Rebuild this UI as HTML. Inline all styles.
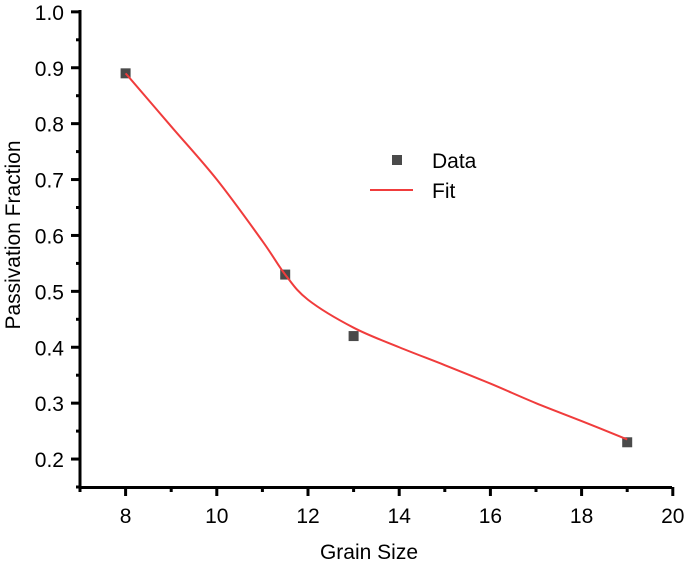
<!DOCTYPE html>
<html><head><meta charset="utf-8"><style>
body{margin:0;background:#fff;}
svg{display:block;font-family:"Liberation Sans",Arial,sans-serif;}
</style></head><body>
<svg id="chart" width="685" height="565"></svg>
<script>
const xTicks=[8,10,12,14,16,18,20];
const yTicks=[0.2,0.3,0.4,0.5,0.6,0.7,0.8,0.9,1.0];
const dataX=[8,11.5,13,19];
const dataY=[0.89,0.53,0.42,0.23];
const fitX=[8,9,10,11,11.5,12,13,14,15,16,17,18,19];
const fitY=[0.89,0.795,0.70,0.59,0.53,0.485,0.435,0.40,0.368,0.335,0.30,0.268,0.235];
const NS='http://www.w3.org/2000/svg';
const svg=document.getElementById('chart');
const sx=v=>80+(v-7)*45.6;
const sy=v=>487-(v-0.15)*559;
function mk(t,a,p){const e=document.createElementNS(NS,t);for(const k in a)e.setAttribute(k,a[k]);(p||svg).appendChild(e);return e;}
const ax=mk('line',{x1:80,y1:10,x2:80,y2:489,stroke:'#000','stroke-width':3});


const bx=mk('line',{x1:78.5,y1:487.5,x2:672,y2:487.5,stroke:'#000','stroke-width':3});


for(let v=7;v<=20.01;v+=1){const major=xTicks.includes(Math.round(v));
 const t=mk('line',{x1:sx(v),x2:sx(v),y1:487,y2:major?496:492,stroke:'#000','stroke-width':3});
 
 }
xTicks.forEach(v=>{const t=mk('text',{x:sx(v),y:523,'text-anchor':'middle','font-size':21});t.textContent=v;
 
 });
for(let i=0;i<=17;i++){const v=0.15+i*0.05;const major=i%2==1;
 const t=mk('line',{x1:major?71:76,x2:80,y1:sy(v),y2:sy(v),stroke:'#000','stroke-width':3});
 
 }
yTicks.forEach(v=>{const t=mk('text',{x:64,y:sy(v)+8,'text-anchor':'end','font-size':21});t.textContent=v.toFixed(1);
 
 });
const xt=mk('text',{x:369,y:559,'text-anchor':'middle','font-size':21});xt.textContent='Grain Size';


const yt=mk('text',{x:0,y:0,'text-anchor':'middle','font-size':21,transform:'translate(20,235) rotate(-90)'});yt.textContent='Passivation Fraction';


const pts=fitX.map((x,i)=>[sx(x),sy(fitY[i])]);
let d='M'+pts[0][0]+','+pts[0][1];
for(let i=0;i<pts.length-1;i++){const p0=pts[i-1]||pts[i],p1=pts[i],p2=pts[i+1],p3=pts[i+2]||p2;
 d+=' C'+(p1[0]+(p2[0]-p0[0])/6)+','+(p1[1]+(p2[1]-p0[1])/6)+' '+(p2[0]-(p3[0]-p1[0])/6)+','+(p2[1]-(p3[1]-p1[1])/6)+' '+p2[0]+','+p2[1];}
dataX.forEach((x,i)=>{const r=mk('rect',{x:sx(x)-5,y:sy(dataY[i])-5,width:10,height:10,fill:'#4a4a4a'});
 
 });
const fl=mk('path',{d:d,fill:'none',stroke:'#f03c3c','stroke-width':2});


const lg=mk('g',{});


mk('rect',{x:392,y:155,width:10,height:10,fill:'#4a4a4a'},lg);
const l1=mk('text',{x:432,y:168,'font-size':21},lg);l1.textContent='Data';
mk('line',{x1:370,x2:413,y1:190,y2:190,stroke:'#f03c3c','stroke-width':2},lg);
const l2=mk('text',{x:432,y:198,'font-size':21},lg);l2.textContent='Fit';
</script>
</body></html>
